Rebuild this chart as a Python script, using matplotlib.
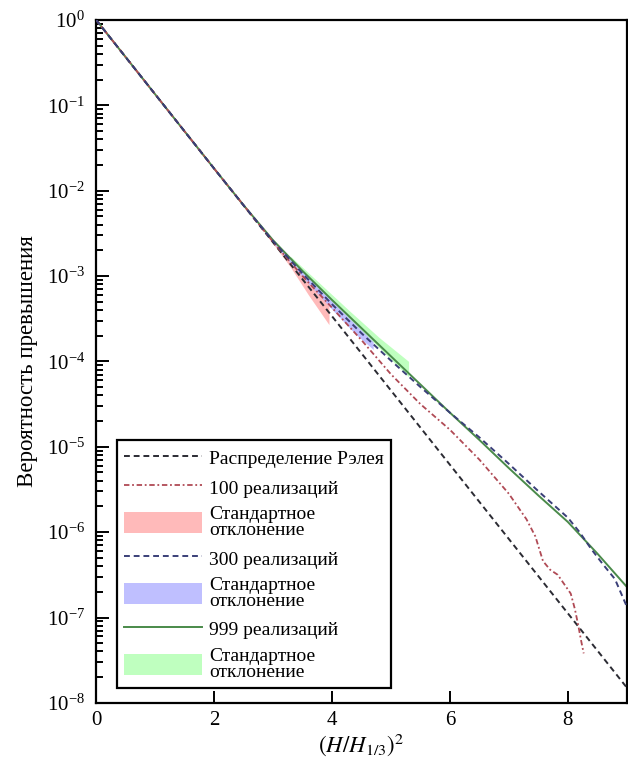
import numpy as np
import matplotlib
matplotlib.use('Agg')
from matplotlib import pyplot as plt

plt.rcParams['font.family'] = ['Liberation Serif', 'DejaVu Serif']
plt.rcParams['mathtext.fontset'] = 'stix'

# values, stored as log10 of probability
x_rayleigh = [0, 2, 4, 6, 8, 9]
log_rayleigh = [0, -1.74, -3.47, -5.21, -6.95, -7.82]

x_100 = [0, 1, 2, 2.5, 3, 3.5, 4, 4.5, 5, 5.5, 6, 6.5, 7, 7.3, 7.45, 7.58, 7.7,
         7.83, 7.95, 8.05, 8.12, 8.18, 8.22, 8.27]
log_100 = [0, -0.87, -1.74, -2.17, -2.6, -3.0, -3.37, -3.75, -4.15, -4.5, -4.8,
           -5.15, -5.55, -5.85, -6.05, -6.34, -6.44, -6.5, -6.62, -6.72, -6.9,
           -7.1, -7.25, -7.42]

x_300 = [0, 1, 2, 2.5, 3, 3.5, 4, 4.5, 5, 5.5, 6, 6.5, 7, 7.5, 8, 8.2, 8.4, 8.6,
         8.8, 9]
log_300 = [0, -0.87, -1.74, -2.17, -2.59, -2.97, -3.33, -3.67, -3.99, -4.3,
           -4.6, -4.89, -5.2, -5.52, -5.83, -6.0, -6.2, -6.38, -6.55, -6.87]

x_999 = [0, 1, 2, 2.5, 3, 3.5, 4, 4.5, 5, 5.5, 6, 6.5, 7, 7.5, 8, 8.5, 9]
log_999 = [0, -0.87, -1.74, -2.17, -2.58, -2.94, -3.28, -3.61, -3.94, -4.27,
           -4.6, -4.92, -5.25, -5.57, -5.88, -6.25, -6.64]

# standard deviation bands
x_std100 = [3.0, 3.3, 3.6, 3.95]
lo_std100 = [-2.62, -2.9, -3.22, -3.57]
hi_std100 = [-2.58, -2.84, -3.06, -3.3]

x_std300 = [3.0, 3.5, 4.0, 4.4, 4.7]
lo_std300 = [-2.61, -3.01, -3.39, -3.68, -3.86]
hi_std300 = [-2.58, -2.95, -3.29, -3.56, -3.74]

x_std999 = [3.3, 3.8, 4.3, 4.8, 5.3]
lo_std999 = [-2.82, -3.16, -3.5, -3.84, -4.18]
hi_std999 = [-2.77, -3.09, -3.41, -3.72, -4.0]

std_label = 'Стандартное\nотклонение'

fig = plt.figure(figsize=(6.28, 7.64), dpi=100)
ax = fig.add_axes([0.153, 0.08, 0.845, 0.894])

p = lambda v: 10.0 ** np.array(v)

ax.plot(x_rayleigh, p(log_rayleigh), ls=(0, (3, 2)), color='#2b2b33', lw=1.4,
        label='Распределение Рэлея', zorder=3)
ax.plot(x_100, p(log_100), ls=(0, (3, 1.5, 1, 1.5)), color='#b04a55', lw=1.3,
        label='100 реализаций', zorder=3)
ax.fill_between(x_std100, p(lo_std100), p(hi_std100), color='#ffb3b3',
                lw=0, alpha=0.9, label=std_label, zorder=1)
ax.plot(x_300, p(log_300), ls=(0, (3, 2)), color='#3a3f78', lw=1.4,
        label='300 реализаций', zorder=3)
ax.fill_between(x_std300, p(lo_std300), p(hi_std300), color='#b8b8ff',
                lw=0, alpha=0.9, label=std_label, zorder=1)
ax.plot(x_999, p(log_999), ls='-', color='#4a8a4a', lw=1.4,
        label='999 реализаций', zorder=2)
ax.fill_between(x_std999, p(lo_std999), p(hi_std999), color='#b8ffb8',
                lw=0, alpha=0.9, label=std_label, zorder=1)

ax.set_yscale('log')
ax.set_xlim(0, 9)
ax.set_ylim(1e-8, 1)
ax.set_xticks([0, 2, 4, 6, 8])
ax.set_yticks([10.0 ** k for k in range(-8, 1)])
ax.tick_params(which='both', direction='in', top=False, right=False,
               labelsize=15, width=1.4)
ax.tick_params(which='major', length=9)
ax.tick_params(which='minor', length=5)
ax.tick_params(axis='y', which='major', pad=8)
ax.tick_params(axis='x', which='major', pad=6)
for s in ax.spines.values():
    s.set_linewidth(1.6)

ax.set_xlabel('$(H/H_{1/3})^2$', fontsize=16.5, labelpad=1)
ax.set_ylabel('Вероятность превышения', fontsize=16.5, labelpad=6)

leg = ax.legend(loc='lower left', bbox_to_anchor=(21 / 531, 15 / 683),
                borderaxespad=0, fontsize=14, handlelength=4.0,
                handleheight=1.3, labelspacing=0.42, handletextpad=0.4,
                borderpad=0.35, fancybox=False, framealpha=1,
                edgecolor='black')
for t in leg.get_texts():
    t.set_linespacing(0.95)
leg.get_frame().set_linewidth(1.6)

fig.savefig('out.png', dpi=100)
